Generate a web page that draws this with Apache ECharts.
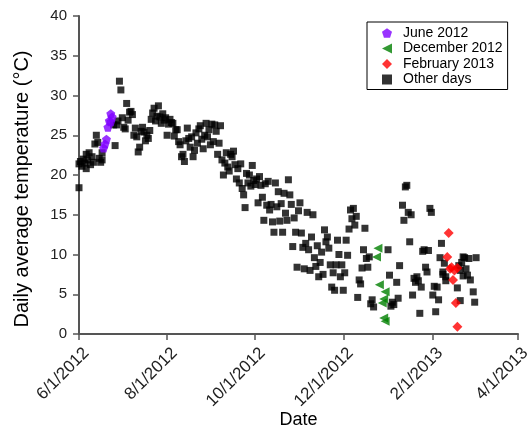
<!DOCTYPE html>
<html>
<head>
<meta charset="utf-8">
<script src="https://cdn.jsdelivr.net/npm/echarts@6/dist/echarts.min.js"></script>
<style>html,body{margin:0;padding:0;background:#fff;}#c{width:530px;height:428px;}</style>
</head>
<body>
<div id="c"></div>
<script>
// x values are day offsets from 6/1/2012
var xTickDays = [0, 61, 122, 183, 245, 304];
var xTickLabels = ['6/1/2012', '8/1/2012', '10/1/2012', '12/1/2012', '2/1/2013', '4/1/2013'];
var yTicks = [0, 5, 10, 15, 20, 25, 30, 35, 40];

var juneDays  = [17, 18, 19, 20, 21, 22, 23, 22];
var juneTemps = [23.4, 23.9, 24.5, 26.0, 26.8, 27.7, 27.3, 26.7];

var decDays  = [206, 207, 208, 210, 211, 211, 212, 212];
var decTemps = [9.7, 10.8, 6.2, 3.9, 4.4, 2.0, 5.3, 1.6];

var febDays  = [255, 256, 257, 258, 259, 260, 261, 262, 262];
var febTemps = [9.7, 12.7, 8.2, 8.4, 6.8, 8.0, 3.9, 0.9, 8.3];

var otherDays = [
  0, 0, 1, 2, 3, 4, 5, 5, 6, 7, 8, 9, 10, 11, 12, 13, 14, 15, 16, 16,
  24, 25, 26, 27, 28, 29, 30, 31, 32, 33, 34, 35, 36, 37, 38, 39, 40, 41, 42, 43,
  44, 45, 46, 47, 48, 49, 50, 51, 52, 53, 54, 55, 56, 57, 58, 59, 60, 61, 62, 63,
  64, 65, 66, 67, 68, 69, 70, 71, 72, 73, 74, 75, 76, 77, 78, 79, 80,
  81, 82, 83, 84, 85, 86, 87, 88, 89, 90, 91, 92, 93, 94, 95, 96, 97, 98, 99, 100,
  101, 102, 103, 104, 105, 106, 107, 108, 109, 110, 111, 112, 113, 114, 115, 116, 117, 118, 119, 120,
  121, 122, 123, 124, 125, 126, 127, 128, 129, 130, 131, 132, 133, 134, 135, 136, 137, 138, 139, 140,
  141, 142, 143, 144, 145, 146, 147, 148, 149, 150, 151, 152, 153, 154, 155, 156, 157, 158, 159, 160,
  161, 162, 163, 164, 165, 166, 167, 168, 169, 170, 171, 172, 173, 174, 175, 176, 177, 178, 179, 180, 181,
  182, 183, 184, 185, 186, 187, 188, 189, 190, 191, 192, 193, 194, 195, 196, 197, 198, 199, 200, 201, 202, 203, 204,
  214, 215, 216, 217, 218, 220, 221, 222, 224, 225, 226, 227, 228, 229, 230, 231, 232, 233, 234, 235,
  236, 237, 238, 239, 240, 241, 242, 243, 244, 245, 246, 247, 248, 249, 250, 251, 252, 252, 253, 254, 254,
  262, 263, 264, 264, 265, 266, 266, 267, 268, 269, 270, 271, 273, 274, 275
];
var otherTemps = [
  18.4, 21.4, 21.7, 21.1, 22.0, 21.5, 22.6, 20.8, 21.9, 22.8, 21.3, 22.3, 21.6, 23.9, 25.0, 24.1, 22.1, 21.6, 22.8, 21.9,
  26.3, 23.7, 26.3, 26.8, 31.8, 30.7, 27.2, 26.0, 25.8, 29.0, 26.9, 27.9, 28.0, 27.6, 25.0, 25.9, 24.8, 22.9, 23.5, 25.5,
  26.0, 25.4, 24.3, 25.0, 24.6, 25.6, 27.0, 27.8, 28.4, 26.8, 27.4, 28.7, 27.3, 26.5, 27.7, 26.9, 27.2, 25.0, 26.4, 27.0,
  26.6, 26.5, 24.9, 25.7, 25.7, 24.2, 23.8, 22.3, 22.6, 21.7, 24.3, 25.9, 24.6, 23.5, 24.8, 22.3, 23.1,
  25.3, 24.0, 25.8, 26.2, 24.5, 23.3, 25.0, 26.5, 24.8, 25.7, 23.8, 26.4, 24.2, 26.3, 25.5, 22.6, 24.0, 26.2, 21.9, 20.0,
  21.5, 22.8, 21.0, 20.5, 22.6, 22.3, 23.0, 21.3, 19.5, 20.8, 19.0, 21.4, 18.3, 17.5, 15.9, 20.2, 19.0, 20.0, 18.6, 21.2,
  19.3, 18.8, 19.5, 16.5, 19.8, 18.7, 17.2, 14.3, 18.9, 16.2, 19.2, 15.6, 16.3, 14.1, 12.8, 19.0, 16.0, 17.9, 14.2, 16.4,
  12.8, 17.7, 15.2, 14.3, 19.4, 17.5, 16.3, 11.0, 14.6, 12.8, 8.4, 15.5, 16.5, 12.7, 10.9, 8.2, 11.4, 15.3, 10.6, 8.0,
  12.2, 15.0, 9.6, 8.5, 11.1, 7.2, 9.0, 10.3, 7.5, 13.1, 11.6, 12.2, 10.8, 8.7, 5.9, 7.7, 5.5, 8.7, 11.8, 10.0, 7.2,
  8.7, 5.5, 7.7, 11.8, 9.9, 13.2, 15.6, 14.5, 15.8, 13.7, 14.8, 4.6, 6.8, 6.3, 8.3, 10.6, 13.3, 9.5, 8.4, 9.7, 3.8, 4.3, 3.4,
  10.6, 7.4, 3.5, 4.0, 3.7, 6.5, 4.5, 8.6, 16.2, 14.3, 18.5, 18.7, 15.3, 11.6, 15.0, 4.9, 7.0, 6.5, 7.2, 6.7,
  2.6, 5.9, 10.4, 10.6, 8.4, 7.8, 10.5, 15.8, 15.3, 4.9, 6.0, 2.8, 5.9, 4.3, 9.6, 11.4, 7.5, 7.8, 8.9, 7.2, 6.7,
  5.8, 8.6, 4.2, 8.0, 9.0, 7.3, 9.7, 9.6, 8.2, 7.4, 9.5, 6.8, 5.3, 4.0, 9.6
];

function pairs(xs, ys) { return xs.map(function (x, i) { return [x, ys[i]]; }); }

var FONT = '"Liberation Sans", Arial, sans-serif';
var pentagon = 'path://M50,0 L97.6,34.5 L79.4,90.5 L20.6,90.5 L2.4,34.5 Z';
var leftTriangle = 'path://M0,50 L100,0 L100,100 Z';

var chart = echarts.init(document.getElementById('c'), null, { renderer: 'canvas' });
chart.setOption({
  animation: false,
  backgroundColor: '#fff',
  textStyle: { fontFamily: FONT },
  grid: { left: 79, right: 12, top: 16, bottom: 94, containLabel: false, outerBoundsMode: 'none' },
  legend: {
    orient: 'vertical',
    left: 367, top: 22,
    data: [
      { name: 'June 2012', icon: pentagon },
      { name: 'December 2012', icon: leftTriangle },
      { name: 'February 2013', icon: 'diamond' },
      { name: 'Other days', icon: 'rect' }
    ],
    borderColor: '#000', borderWidth: 1,
    backgroundColor: '#fff',
    padding: [4, 5, 3, 15],
    itemWidth: 10, itemHeight: 10, itemGap: 1.5,
    textStyle: { fontSize: 14, color: '#000', fontFamily: FONT, lineHeight: 13, padding: [0, 0, 0, 6] }
  },
  xAxis: {
    type: 'value',
    min: 0, max: 304,
    name: 'Date', nameLocation: 'middle', nameGap: 77, nameMoveOverlap: false,
    nameTextStyle: { fontSize: 18, color: '#000', fontFamily: FONT },
    axisLine: { show: true, lineStyle: { color: '#555', width: 2 } },
    axisTick: { show: true, customValues: xTickDays, length: 6, inside: false, lineStyle: { color: '#555', width: 1.5 } },
    axisLabel: {
      customValues: xTickDays, rotate: 45, margin: 9, fontSize: 17, lineHeight: 21, color: '#222', fontFamily: FONT,
      formatter: function (v) { var i = xTickDays.indexOf(Math.round(v)); return i >= 0 ? '\n' + xTickLabels[i] : ''; }
    },
    splitLine: { show: false }
  },
  yAxis: {
    type: 'value',
    min: yTicks[0], max: yTicks[yTicks.length - 1], interval: 5,
    name: 'Daily average temperature (\u00B0C)', nameLocation: 'middle', nameGap: 47, nameRotate: 90, nameMoveOverlap: false,
    nameTextStyle: { fontSize: 20, color: '#000', fontFamily: FONT, padding: [0, 28, 0, 0] },
    axisLine: { show: true, lineStyle: { color: '#555', width: 2 } },
    axisTick: { show: true, length: 6, inside: false, lineStyle: { color: '#555', width: 1.5 } },
    axisLabel: { margin: 12, fontSize: 15, color: '#222', fontFamily: FONT },
    splitLine: { show: false }
  },
  series: [
    { name: 'Other days', type: 'scatter', data: pairs(otherDays, otherTemps), symbol: 'rect', symbolSize: 7,
      itemStyle: { color: '#000' }, z: 2 },
    { name: 'June 2012', type: 'scatter', data: pairs(juneDays, juneTemps), symbol: pentagon, symbolSize: 9,
      itemStyle: { color: '#8000FF' }, z: 3 },
    { name: 'December 2012', type: 'scatter', data: pairs(decDays, decTemps), symbol: leftTriangle, symbolSize: 9,
      itemStyle: { color: '#008000' }, z: 3 },
    { name: 'February 2013', type: 'scatter', data: pairs(febDays, febTemps), symbol: 'diamond', symbolSize: 10,
      itemStyle: { color: '#FF0000' }, z: 3 }
  ]
});
</script>
</body>
</html>
